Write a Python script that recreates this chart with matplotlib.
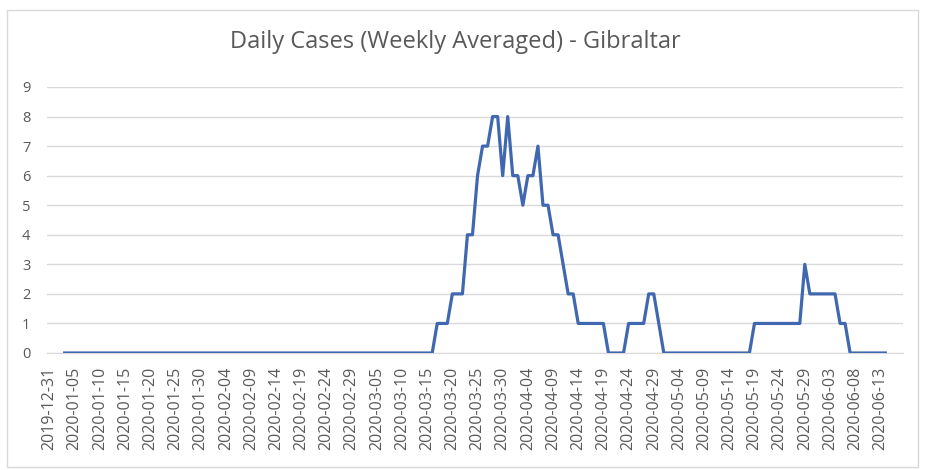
import numpy as np
import matplotlib
matplotlib.use('Agg')
import matplotlib.pyplot as plt
import pandas as pd
from matplotlib.patches import Rectangle

# data (weekly averaged daily cases)
start_date = '2019-12-31'
n_days = 170
first_day = 3  # line starts on 2020-01-03

values = [0] * 74  # 2020-01-03 .. 2020-03-16
values += [1, 1, 1, 2, 2, 2, 4, 4, 6, 7, 7, 8, 8, 6, 8, 6, 6, 5, 6, 6,
           7, 5, 5, 4, 4, 3, 2, 2, 1, 1, 1, 1, 1, 1, 0, 0, 0, 0, 1, 1,
           1, 1, 2, 2, 1]
values += [0] * 18  # 2020-05-01 .. 2020-05-18
values += [1, 1, 1, 1, 1, 1, 1, 1, 1, 1, 3, 2, 2, 2, 2, 2, 2, 1, 1,
           0, 0, 0, 0, 0, 0, 0, 0]

dates = pd.date_range(start_date, periods=n_days, freq='D')
tick_labels = [d.strftime('%Y-%m-%d') for d in dates[::5]]
tick_pos = np.arange(0, n_days, 5)

grey = '#595959'
grid_col = '#d9d9d9'
blue = '#4068b0'

plt.rcParams['font.family'] = ['Open Sans', 'DejaVu Sans']

fig = plt.figure(figsize=(9.25, 4.7), dpi=100)
ax = fig.add_axes([47 / 925, 1 - 353 / 470, 856 / 925, 266 / 470])

x = np.arange(first_day, first_day + len(values))
ax.plot(x, values, color=blue, linewidth=2.3, solid_joinstyle='round', zorder=3)

ax.set_xlim(-0.5, n_days - 0.5)
ax.set_ylim(0, 9)
ax.set_yticks(range(0, 10))
ax.set_xticks(tick_pos)
ax.set_xticklabels(tick_labels, rotation=90, fontsize=11.5, color=grey)
ax.tick_params(axis='y', labelsize=10.5, colors=grey, length=0, pad=12)
ax.tick_params(axis='x', length=0, pad=10)
ax.grid(axis='y', color=grid_col, linewidth=1)
for s in ['top', 'right', 'left']:
    ax.spines[s].set_visible(False)
ax.spines['bottom'].set_color(grid_col)
ax.set_axisbelow(True)

fig.text(455 / 925, 1 - 42 / 470, 'Daily Cases (Weekly Averaged) - Gibraltar',
         ha='center', va='center', fontsize=17, color=grey)

# chart border
fig.patches.append(Rectangle((7 / 925, 1 - 467 / 470), 911 / 925, 457 / 470,
                             transform=fig.transFigure, fill=False,
                             edgecolor=grid_col, linewidth=1))

fig.savefig('out.png', dpi=100)
